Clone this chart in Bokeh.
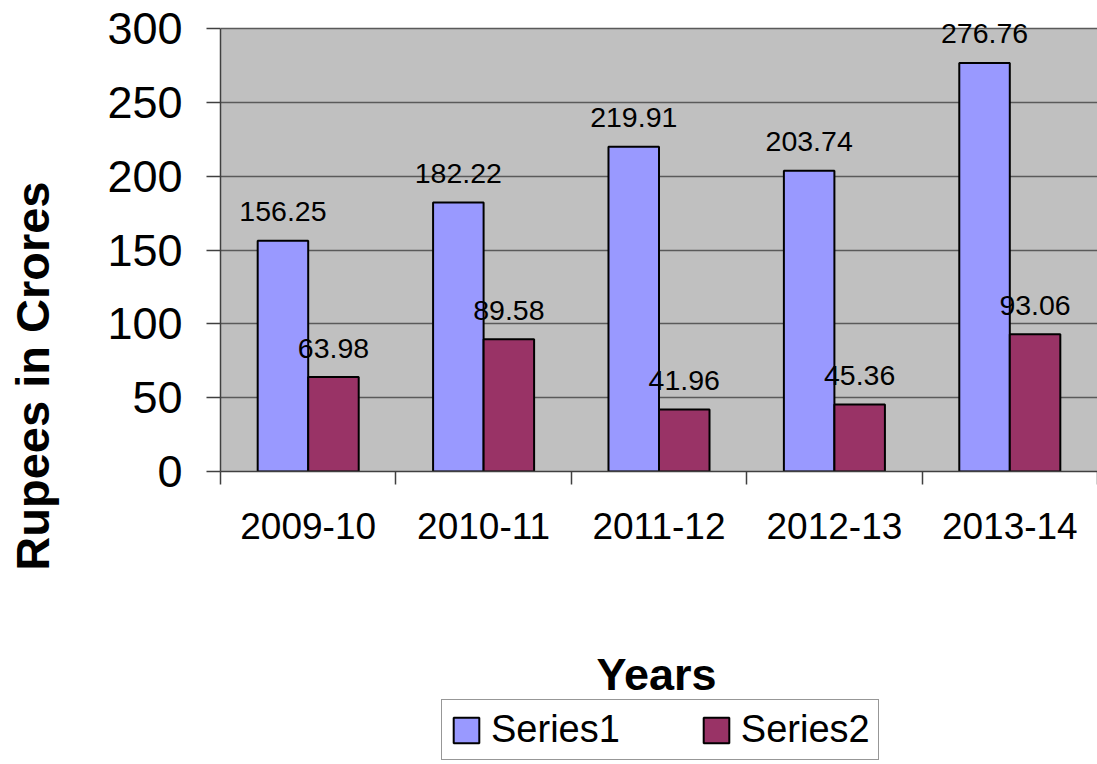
from bokeh.plotting import figure
from bokeh.layouts import column
from bokeh.models import (Range1d, FixedTicker, ColumnDataSource, Legend, LegendItem,
                          Label, BoxAnnotation)
from bokeh.core.properties import value
from bokeh.embed import file_html
from bokeh.resources import INLINE

# ---- data ----
years = ["2009-10", "2010-11", "2011-12", "2012-13", "2013-14"]
series1 = [156.25, 182.22, 219.91, 203.74, 276.76]
series2 = [63.98, 89.58, 41.96, 45.36, 93.06]
y_ticks = [0, 50, 100, 150, 200, 250, 300]
series_names = ["Series1", "Series2"]
x_title = "Years"
y_title = "Rupees in Crores"

FONT = "Liberation Sans"
C1 = "#9999FF"
C2 = "#993366"
PLOT_BG = "#C0C0C0"
BAR_W = 0.288
OFF = 0.144
W = 1097
H_MAIN = 600
H_LEG = 164
Y_MAX = y_ticks[-1]
Y_HEAD = 15          # head room above the plot area for the tallest data label

centers = [i + 0.5 for i in range(len(years))]
src = ColumnDataSource(dict(
    x1=[c - OFF for c in centers],
    x2=[c + OFF for c in centers],
    s1=series1,
    s2=series2,
    t1=[f"{v:.2f}" for v in series1],
    t2=[f"{v:.2f}" for v in series2],
))

p = figure(width=W, height=H_MAIN, output_backend="svg", toolbar_location=None,
           x_range=Range1d(0, len(years)), y_range=Range1d(0, Y_MAX + Y_HEAD),
           min_border_left=220, min_border_right=0, min_border_top=6,
           min_border_bottom=H_MAIN - 471)
p.background_fill_color = "white"
p.border_fill_color = "white"
p.outline_line_color = None

plot_area = BoxAnnotation(bottom=0, top=Y_MAX, fill_color=PLOT_BG, fill_alpha=1,
                          line_color=None, level="image")
p.add_layout(plot_area)

r1 = p.vbar(x="x1", top="s1", width=BAR_W, source=src, fill_color=C1,
            line_color="black", line_width=2)
r2 = p.vbar(x="x2", top="s2", width=BAR_W, source=src, fill_color=C2,
            line_color="black", line_width=2)

for xcol, ycol, tcol in (("x1", "s1", "t1"), ("x2", "s2", "t2")):
    p.text(x=xcol, y=ycol, text=tcol, source=src, text_align="center",
           text_baseline="alphabetic", y_offset=-29, text_font=value(FONT),
           text_font_size="28.5px", text_color="black")

# grid
p.xgrid.visible = False
p.ygrid.ticker = FixedTicker(ticks=y_ticks)
p.ygrid.grid_line_color = "#5a5a5a"
p.ygrid.grid_line_width = 1.5

# y axis
ya = p.yaxis[0]
ya.ticker = FixedTicker(ticks=y_ticks, minor_ticks=[])
ya.bounds = (0, Y_MAX)
ya.major_tick_out = 14
ya.major_tick_in = 0
ya.minor_tick_out = 0
ya.minor_tick_in = 0
ya.axis_line_color = "#404040"
ya.axis_line_width = 1.5
ya.major_tick_line_color = "#404040"
ya.major_tick_line_width = 1.5
ya.major_label_standoff = 24
ya.major_label_text_font = FONT
ya.major_label_text_font_size = "45px"
ya.major_label_text_color = "black"
# trailing no-break spaces move the centred title down to where the reference has it
ya.axis_label = y_title + "\u00a0" * 21
ya.axis_label_text_font = FONT
ya.axis_label_text_font_size = "47px"
ya.axis_label_text_font_style = "bold"
ya.axis_label_text_color = "black"
ya.axis_label_standoff = 45

# x axis
xa = p.xaxis[0]
xa.ticker = FixedTicker(ticks=centers, minor_ticks=list(range(len(years) + 1)))
xa.major_label_overrides = {c: y for c, y in zip(centers, years)}
xa.major_tick_out = 0
xa.major_tick_in = 0
xa.minor_tick_out = 13
xa.minor_tick_in = 0
xa.minor_tick_line_color = "#404040"
xa.minor_tick_line_width = 1.5
xa.axis_line_color = "#404040"
xa.axis_line_width = 1.5
xa.major_label_standoff = 28
xa.major_label_text_font = FONT
xa.major_label_text_font_size = "37px"
xa.major_label_text_color = "black"

# ---- lower strip: x title and legend ----
p2 = figure(width=W, height=H_LEG, output_backend="svg", toolbar_location=None,
            x_range=Range1d(220, W), y_range=Range1d(0, H_LEG),
            x_axis_type=None, y_axis_type=None,
            min_border_left=220, min_border_right=0, min_border_top=0, min_border_bottom=0)
p2.outline_line_color = None
p2.background_fill_color = "white"
p2.border_fill_color = "white"
p2.grid.visible = False

p2.add_layout(Label(x=656, y=90, text=x_title, text_align="center", text_baseline="middle",
                    text_font=FONT, text_font_size="45px", text_font_style="bold",
                    text_color="black"))

# legend proxies (same series data, hidden; only their legend swatches are drawn)
d1 = p2.vbar(x="x1", top="s1", width=BAR_W, source=src, fill_color=C1,
             line_color="black", line_width=2, visible=False)
d2 = p2.vbar(x="x2", top="s2", width=BAR_W, source=src, fill_color=C2,
             line_color="black", line_width=2, visible=False)

lg = Legend(items=[LegendItem(label=series_names[0], renderers=[d1]),
                   LegendItem(label=series_names[1], renderers=[d2])])
lg.orientation = "horizontal"
lg.margin = 0
lg.padding = 8
lg.location = (221, 4)
lg.border_line_color = "#303030"
lg.border_line_width = 1.5
lg.background_fill_color = "white"
lg.background_fill_alpha = 1
lg.inactive_fill_alpha = 0
lg.label_text_font = FONT
lg.label_text_font_size = "38px"
lg.label_text_color = "black"
lg.glyph_width = 32
lg.glyph_height = 32
lg.label_standoff = 9
lg.spacing = 80
p2.add_layout(lg, "center")

layout = column(p, p2, spacing=0)
open("out.html", "w").write(file_html(layout, INLINE))
